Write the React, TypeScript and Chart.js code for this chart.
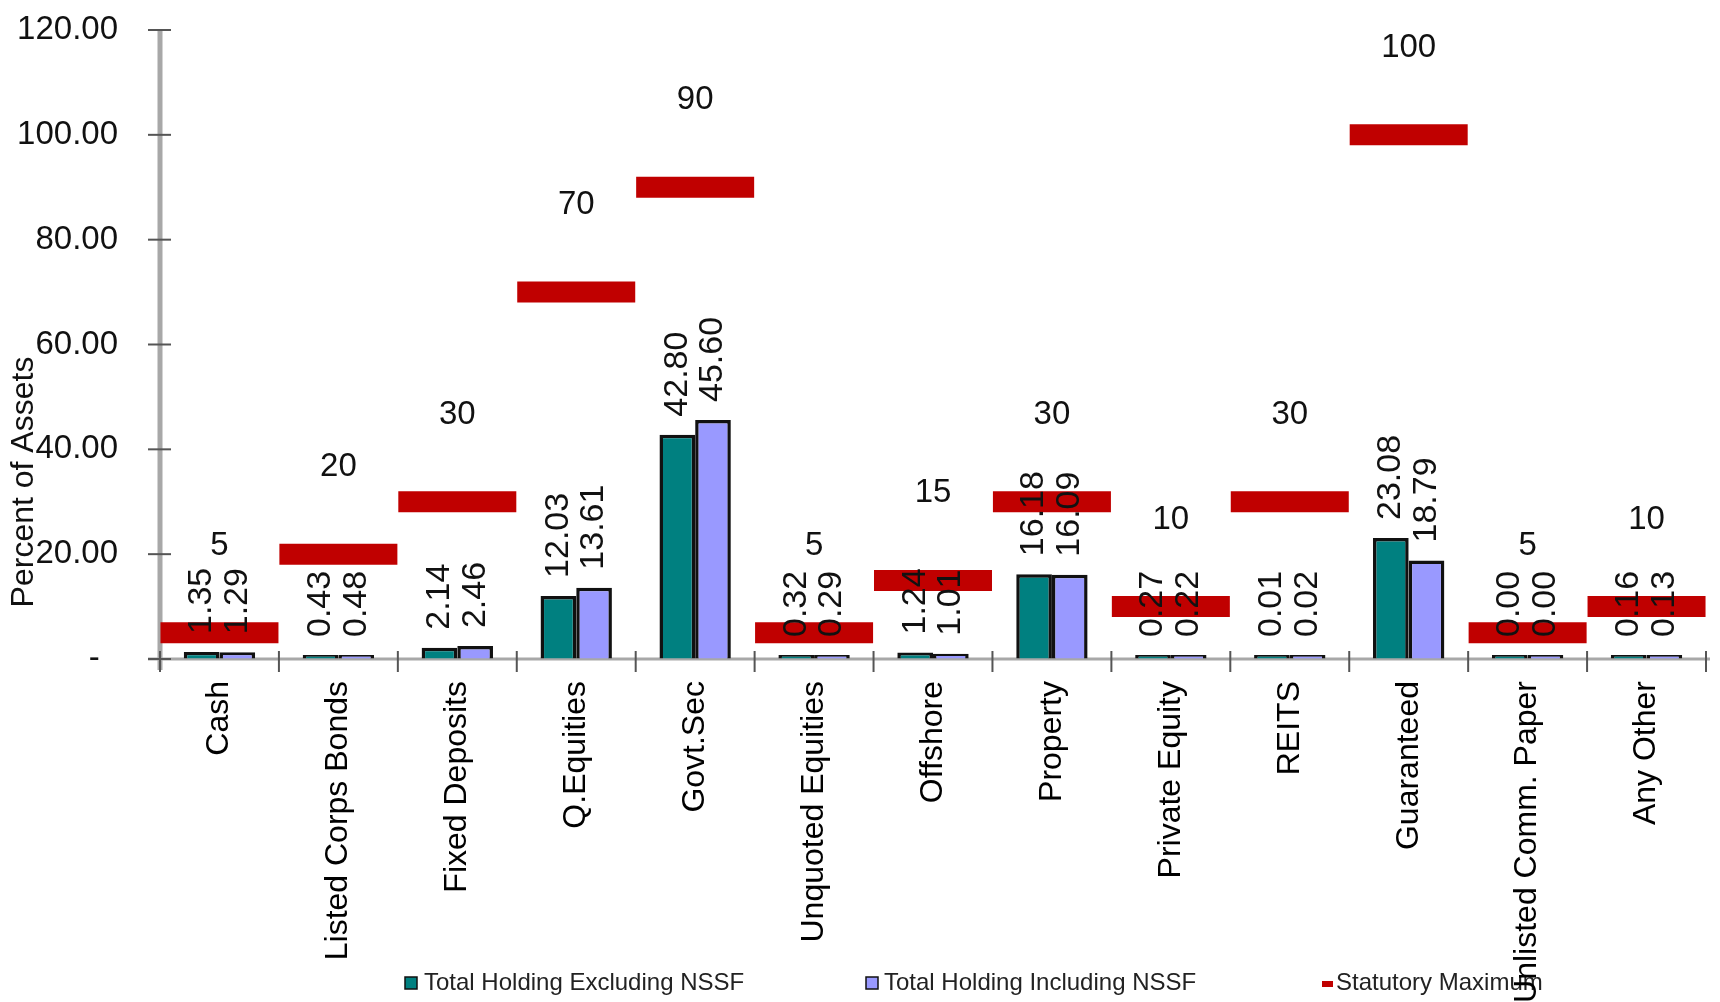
import React, { useEffect, useRef } from "react";
import { Chart, registerables } from "chart.js";

Chart.register(...registerables);

const categories = [
  "Cash",
  "Listed Corps Bonds",
  "Fixed Deposits",
  "Q.Equities",
  "Govt.Sec",
  "Unquoted Equities",
  "Offshore",
  "Property",
  "Private Equity",
  "REITS",
  "Guaranteed",
  "Unlisted Comm. Paper",
  "Any Other",
];
const excludingNSSF = [1.35, 0.43, 2.14, 12.03, 42.8, 0.32, 1.24, 16.18, 0.27, 0.01, 23.08, 0.0, 0.16];
const includingNSSF = [1.29, 0.48, 2.46, 13.61, 45.6, 0.29, 1.01, 16.09, 0.22, 0.02, 18.79, 0.0, 0.13];
const statutoryMaximum = [5, 20, 30, 70, 90, 5, 15, 30, 10, 30, 100, 5, 10];
const yTickValues = [0, 20, 40, 60, 80, 100, 120];

const seriesNames = ["Total Holding Excluding NSSF", "Total Holding Including NSSF", "Statutory Maximum"];
const TEAL = "#008080";
const LAVENDER = "#9999FF";
const RED = "#C00000";
const FONT = "'Liberation Sans', Arial, sans-serif";

const axesPlugin = {
  id: "customAxes",
  beforeDatasetsDraw(chart: any) {
    const { ctx, chartArea } = chart;
    const x = chart.scales.x;
    const y = chart.scales.y;
    ctx.save();
    ctx.strokeStyle = "#a8a8a8";
    ctx.lineWidth = 5;
    ctx.beginPath();
    ctx.moveTo(chartArea.left, y.getPixelForValue(120));
    ctx.lineTo(chartArea.left, chartArea.bottom + 11);
    ctx.stroke();
    ctx.lineWidth = 3;
    ctx.beginPath();
    ctx.moveTo(chartArea.left - 12, chartArea.bottom);
    ctx.lineTo(chartArea.right + 4, chartArea.bottom);
    ctx.stroke();
    ctx.strokeStyle = "#555";
    ctx.lineWidth = 2;
    yTickValues.forEach((v) => {
      const py = y.getPixelForValue(v);
      ctx.beginPath();
      ctx.moveTo(chartArea.left - 12, py);
      ctx.lineTo(chartArea.left + 11, py);
      ctx.stroke();
    });
    const n = categories.length;
    for (let i = 0; i <= n; i++) {
      let px;
      if (i === 0) px = chartArea.left;
      else if (i === n) px = chartArea.right;
      else px = (x.getPixelForValue(i - 1) + x.getPixelForValue(i)) / 2;
      ctx.beginPath();
      ctx.moveTo(px, chartArea.bottom - 8);
      ctx.lineTo(px, chartArea.bottom + 13);
      ctx.stroke();
    }
    ctx.restore();
  },
};

const labelsPlugin = {
  id: "customLabels",
  afterDatasetsDraw(chart: any) {
    const { ctx } = chart;
    ctx.save();
    ctx.fillStyle = "#111";
    [1, 2].forEach((di) => {
      const meta = chart.getDatasetMeta(di);
      const values = chart.data.datasets[di].data as number[];
      meta.data.forEach((el: any, i: number) => {
        ctx.save();
        ctx.translate(el.x, el.y - 18);
        ctx.rotate(-Math.PI / 2);
        ctx.font = `34px ${FONT}`;
        ctx.textAlign = "left";
        ctx.textBaseline = "middle";
        ctx.fillText(values[i].toFixed(2), 0, 0);
        ctx.restore();
      });
    });
    const lmeta = chart.getDatasetMeta(0);
    const lvals = chart.data.datasets[0].data as number[];
    ctx.font = `33px ${FONT}`;
    ctx.textAlign = "center";
    ctx.textBaseline = "middle";
    lmeta.data.forEach((el: any, i: number) => {
      ctx.fillText(String(lvals[i]), el.x, el.y - 87);
    });
    ctx.restore();
  },
  afterDraw(chart: any) {
    const { ctx } = chart;
    ctx.save();
    ctx.fillStyle = "#111";
    ctx.font = `32px ${FONT}`;
    ctx.translate(24, 482);
    ctx.rotate(-Math.PI / 2);
    ctx.textAlign = "center";
    ctx.textBaseline = "middle";
    ctx.fillText("Percent of Assets", 0, 0);
    ctx.restore();
  },
  beforeDraw(chart: any) {
    const { ctx } = chart;
    ctx.save();
    ctx.font = `24px ${FONT}`;
    ctx.textBaseline = "middle";
    const cy = 983;
    ctx.strokeStyle = "#111";
    ctx.lineWidth = 1.5;
    ctx.fillStyle = TEAL;
    ctx.fillRect(405, cy - 6, 12, 12);
    ctx.strokeRect(405, cy - 6, 12, 12);
    ctx.fillStyle = "#222";
    ctx.fillText(seriesNames[0], 424, cy);
    ctx.fillStyle = LAVENDER;
    ctx.fillRect(866, cy - 6, 12, 12);
    ctx.strokeRect(866, cy - 6, 12, 12);
    ctx.fillStyle = "#222";
    ctx.fillText(seriesNames[1], 884, cy);
    ctx.fillStyle = RED;
    ctx.fillRect(1322, cy - 2, 11, 6);
    ctx.fillStyle = "#222";
    ctx.fillText(seriesNames[2], 1336, cy);
    ctx.restore();
  },
};

export default function App() {
  const canvasRef = useRef<HTMLCanvasElement | null>(null);

  useEffect(() => {
    if (!canvasRef.current) return;
    const chart = new Chart(canvasRef.current, {
      type: "bar",
      data: {
        labels: categories,
        datasets: [
          {
            type: "line",
            label: seriesNames[2],
            data: statutoryMaximum,
            showLine: false,
            pointStyle: "line",
            pointRadius: 59,
            pointHoverRadius: 59,
            pointBorderWidth: 21,
            pointHoverBorderWidth: 21,
            pointBorderColor: RED,
            pointBackgroundColor: RED,
            borderColor: RED,
            backgroundColor: RED,
            clip: false,
          } as any,
          {
            type: "bar",
            label: seriesNames[0],
            data: excludingNSSF,
            backgroundColor: TEAL,
            borderColor: "#111",
            borderWidth: 3.5,
            minBarLength: 4,
          },
          {
            type: "bar",
            label: seriesNames[1],
            data: includingNSSF,
            backgroundColor: LAVENDER,
            borderColor: "#111",
            borderWidth: 3.5,
            minBarLength: 4,
          },
        ],
      },
      options: {
        responsive: false,
        animation: false,
        events: [],
        layout: { autoPadding: false, padding: { top: 30, right: 14, left: 0, bottom: 0 } },
        datasets: {
          bar: { categoryPercentage: 0.6, barPercentage: 1 },
        },
        plugins: {
          legend: { display: false },
          tooltip: { enabled: false },
          title: { display: false },
        },
        scales: {
          x: {
            offset: true,
            border: { display: false },
            grid: { drawOnChartArea: false, color: "rgba(0,0,0,0)", tickLength: 10, offset: true },
            ticks: {
              autoSkip: false,
              minRotation: 90,
              maxRotation: 90,
              padding: 12,
              color: "#000",
              font: { family: FONT, size: 32 },
            },
            afterFit: (scale: any) => {
              scale.height = 343;
              scale.paddingLeft = 0;
              scale.paddingRight = 0;
              scale.paddingTop = 0;
              scale.paddingBottom = 0;
            },
          },
          y: {
            min: 0,
            max: 120,
            border: { display: false },
            grid: { drawOnChartArea: false, color: "rgba(0,0,0,0)", tickLength: 12 },
            ticks: {
              stepSize: 20,
              padding: 30,
              color: "#111",
              font: { family: FONT, size: 33 },
              callback: (v: any) => (Number(v) === 0 ? "-  " : Number(v).toFixed(2)),
            },
            afterFit: (scale: any) => {
              scale.width = 160;
              scale.paddingLeft = 0;
              scale.paddingRight = 0;
              scale.paddingTop = 0;
              scale.paddingBottom = 0;
            },
          },
        },
      },
      plugins: [axesPlugin, labelsPlugin],
    });
    return () => chart.destroy();
  }, []);

  return (
    <div style={{ position: "absolute", left: 0, top: 0, width: 1720, height: 1002, background: "#fff", overflow: "hidden" }}>
      <canvas ref={canvasRef} width={1720} height={1002} style={{ display: "block" }} />
    </div>
  );
}
